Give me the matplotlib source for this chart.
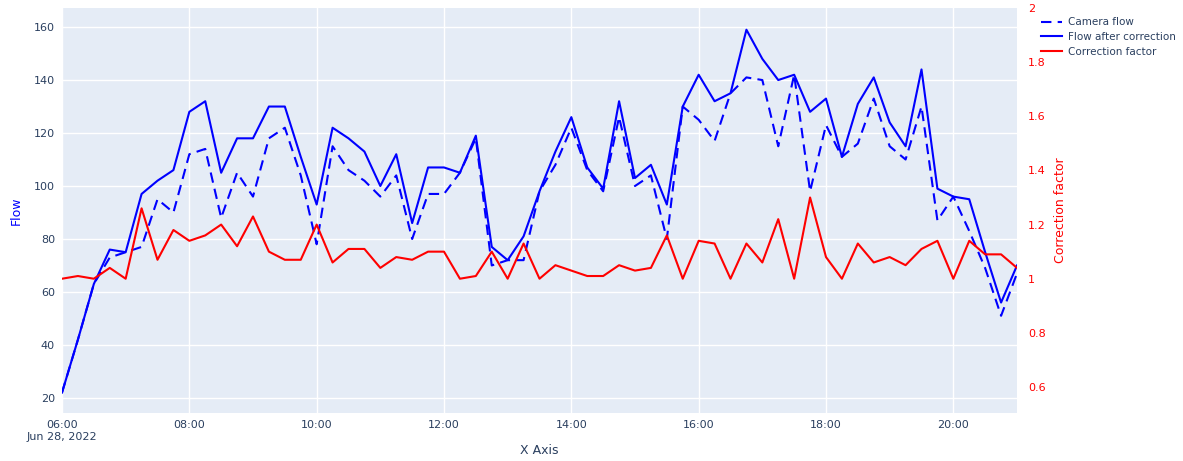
import matplotlib
matplotlib.use("Agg")
import matplotlib.pyplot as plt
import pandas as pd

times = pd.date_range("2022-06-28 06:00", "2022-06-28 21:00", freq="15min")
flow_corrected = [22,42,63,76,75,97,102,106,128,132,105,118,118,130,130,111,93,122,118,113,100,112,86,107,107,105,119,77,72,81,98,113,126,107,99,132,103,108,93,130,142,132,135,159,148,140,142,128,133,111,131,141,124,115,144,99,96,95,75,56,70]
camera_flow = [22,42,63,73,75,77,95,90,112,114,88,105,96,118,122,104,78,115,106,102,96,104,80,97,97,105,118,70,72,72,98,108,122,106,98,126,100,104,80,130,125,117,135,141,140,115,142,98,123,111,116,133,115,110,130,87,96,83,69,51,67]
factor = [1.0,1.01,1.0,1.04,1.0,1.26,1.07,1.18,1.14,1.16,1.2,1.12,1.23,1.1,1.07,1.07,1.2,1.06,1.11,1.11,1.04,1.08,1.07,1.1,1.1,1.0,1.01,1.1,1.0,1.13,1.0,1.05,1.03,1.01,1.01,1.05,1.03,1.04,1.16,1.0,1.14,1.13,1.0,1.13,1.06,1.22,1.0,1.3,1.08,1.0,1.13,1.06,1.08,1.05,1.11,1.14,1.0,1.14,1.09,1.09,1.04]

fig = plt.figure(figsize=(11.83, 4.61), dpi=100)
ax = fig.add_axes([62/1183, 48/461, (1017-62)/1183, (413-8)/461])
ax.set_facecolor("#E5ECF6")
for s in ax.spines.values():
    s.set_visible(False)
ax.grid(True, color="white", lw=1)
ax.set_axisbelow(True)
l1, = ax.plot(times, camera_flow, color="#0000ff", ls=(0, (5, 3)), lw=1.5, label="Camera flow")
l2, = ax.plot(times, flow_corrected, color="#0000ff", lw=1.5, label="Flow after correction")
ax.set_ylim(14.3, 167.2)
ax.set_yticks(range(20, 161, 20))
ax.set_xlim(times[0], times[-1])
ax.set_ylabel("Flow", color="#0000ff", fontsize=9, labelpad=8)
ax.set_xlabel("X Axis", color="#2a3f5f", fontsize=9, labelpad=2)
ticks = pd.date_range("2022-06-28 06:00", "2022-06-28 20:00", freq="2h")
ax.set_xticks(ticks)
ax.set_xticklabels(["06:00\nJun 28, 2022"] + [t.strftime("%H:%M") for t in ticks[1:]])
ax.tick_params(length=0, labelsize=8, colors="#2a3f5f", pad=5)

ax2 = ax.twinx()
for s in ax2.spines.values():
    s.set_visible(False)
l3, = ax2.plot(times, factor, color="#ff0000", lw=1.5, label="Correction factor")
ax2.set_ylim(0.504, 2.0)
ax2.set_yticks([0.6, 0.8, 1, 1.2, 1.4, 1.6, 1.8, 2])
ax2.set_yticklabels(["0.6", "0.8", "1", "1.2", "1.4", "1.6", "1.8", "2"])
ax2.tick_params(length=0, labelsize=8, colors="#ff0000", pad=8)
ax2.set_ylabel("Correction factor", color="#ff0000", fontsize=9, labelpad=6)

fig.legend(handles=[l1, l2, l3], loc="upper left", bbox_to_anchor=(1032/1183, 1 - 8/461),
           frameon=False, fontsize=7.5, labelcolor="#2a3f5f", handlelength=2,
           handletextpad=0.6, labelspacing=0.45)
fig.savefig("out.png", dpi=100)
